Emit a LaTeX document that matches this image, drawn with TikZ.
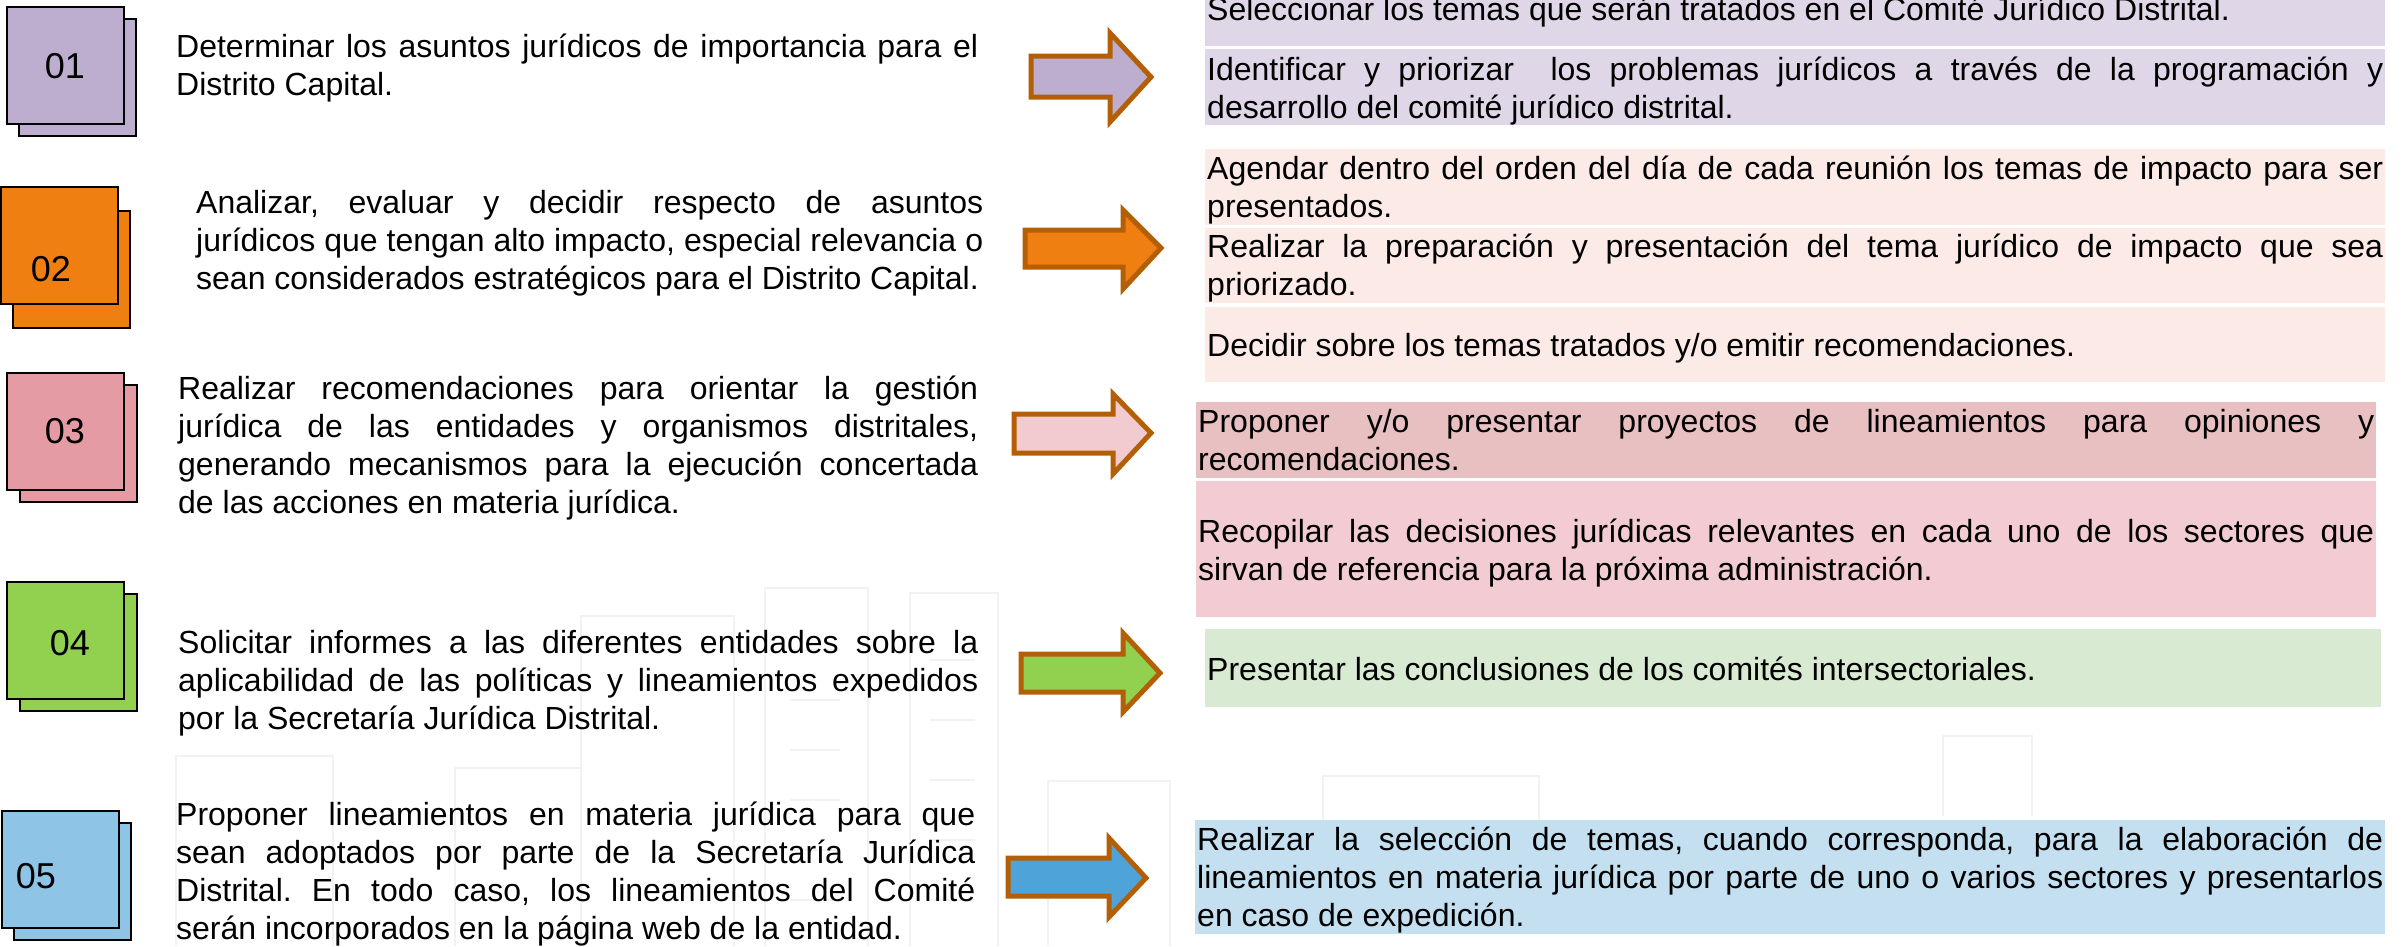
\documentclass[tikz,border=0pt]{standalone}
\usepackage{fontspec}
\setmainfont{Liberation Sans}
\frenchspacing
\definecolor{cA}{HTML}{BDAED0}
\definecolor{cB}{HTML}{EF7F10}
\definecolor{cC}{HTML}{E59BA4}
\definecolor{cD}{HTML}{92D050}
\definecolor{cE}{HTML}{8EC4E6}
\definecolor{rA}{HTML}{DFD6E7}
\definecolor{rB}{HTML}{FBEAE6}
\definecolor{rCa}{HTML}{E8C0C1}
\definecolor{rCb}{HTML}{F2CCD2}
\definecolor{rD}{HTML}{D9EAD3}
\definecolor{rE}{HTML}{C3DFF0}
\definecolor{arC}{HTML}{F2CBD0}
\definecolor{arE}{HTML}{4EA4D9}
\definecolor{arB}{HTML}{B45F06}
\newcommand\jline[1]{\hbox to\hsize{#1}}
\newcommand\lline[1]{\hbox{#1}}
\newcommand\parblock[2]{\vtop{\hsize=#1pt\baselineskip=38.3pt\relax #2}}
\tikzset{
  numbox/.style={draw=black, line width=1.8pt, minimum width=117pt, minimum height=117pt, inner sep=0pt, anchor=north west},
  numlabel/.style={inner sep=0pt, font=\fontsize{36}{40}\selectfont},
  txt/.style={inner sep=0pt, anchor=base west, font=\fontsize{32}{38.3}\selectfont},
  rbox/.style={inner sep=0pt, anchor=north west, draw=none},
  barrow/.style={draw=arB, line width=5pt, miter limit=10},
  sketch/.style={draw=black!5, line width=1.5pt}
}
\newcommand\blockarrow[9]{%
  \draw[barrow, fill=#1] (#2,#3) -- (#5,#3) -- (#5,#6) -- (#8,#9) -- (#5,#7) -- (#5,#4) -- (#2,#4) -- cycle;}
\begin{document}
\begin{tikzpicture}[x=1pt,y=-1pt]
\useasboundingbox (0,0) rectangle (2407,946);
\clip (0,0) rectangle (2407,946);
\fill[white] (0,0) rectangle (2407,946);
% faint background sketch of buildings
\draw[sketch] (176,946) -- (176,756) -- (333,756) -- (333,946);
\draw[sketch] (455,946) -- (455,768) -- (581,768) -- (581,946);
\draw[sketch] (581,946) -- (581,616) -- (734,616) -- (734,946);
\draw[sketch] (765,946) -- (765,588) -- (868,588) -- (868,946);
\draw[sketch] (910,946) -- (910,593) -- (998,593) -- (998,946);
\draw[sketch] (1048,946) -- (1048,781) -- (1170,781) -- (1170,946);
\draw[sketch] (1323,820) -- (1323,776) -- (1539,776) -- (1539,820);
\draw[sketch] (1943,816) -- (1943,736) -- (2032,736) -- (2032,816);
\foreach \yy in {650,700,750,800,850,900}{\draw[sketch] (790,\yy) -- (840,\yy);}
\foreach \yy in {660,720,780,840,900}{\draw[sketch] (930,\yy) -- (975,\yy);}
% number boxes
\node[numbox, fill=cA] (b1back) at (18,18) {};
\node[numbox, fill=cA] (b1) at (6,6) {};
\node[numlabel] (l1) at (65,66) {01};
\node[numbox, fill=cB] (b2back) at (12,210) {};
\node[numbox, fill=cB] (b2) at (0,186) {};
\node[numlabel] (l2) at (51,269) {02};
\node[numbox, fill=cC] (b3back) at (19,384) {};
\node[numbox, fill=cC] (b3) at (6,372) {};
\node[numlabel] (l3) at (65,431) {03};
\node[numbox, fill=cD] (b4back) at (19,593) {};
\node[numbox, fill=cD] (b4) at (6,581) {};
\node[numlabel] (l4) at (70,643) {04};
\node[numbox, fill=cE] (b5back) at (13,822) {};
\node[numbox, fill=cE] (b5) at (1,810) {};
\node[numlabel] (l5) at (36,876) {05};
% left texts
\node[txt] (t1) at (176,57) {\parblock{802}{%
\jline{Determinar los asuntos jurídicos de importancia para el}
\lline{Distrito Capital.}}};
\node[txt] (t2) at (196,213) {\parblock{787}{%
\jline{Analizar, evaluar y decidir respecto de asuntos}
\jline{jurídicos que tengan alto impacto, especial relevancia o}
\lline{sean considerados estratégicos para el Distrito Capital.}}};
\node[txt] (t3) at (178,399) {\parblock{800}{%
\jline{Realizar recomendaciones para orientar la gestión}
\jline{jurídica de las entidades y organismos distritales,}
\jline{generando mecanismos para la ejecución concertada}
\lline{de las acciones en materia jurídica.}}};
\node[txt] (t4) at (178,653) {\parblock{800}{%
\jline{Solicitar informes a las diferentes entidades sobre la}
\jline{aplicabilidad de las políticas y lineamientos expedidos}
\lline{por la Secretaría Jurídica Distrital.}}};
\node[txt] (t5) at (176,825) {\parblock{799}{%
\jline{Proponer lineamientos en materia jurídica para que}
\jline{sean adoptados por parte de la Secretaría Jurídica}
\jline{Distrital. En todo caso, los lineamientos del Comité}
\lline{serán incorporados en la página web de la entidad.}}};
% arrows
\blockarrow{cA}{1031}{56}{97}{1110}{33}{122}{1151}{77}
\blockarrow{cB}{1025}{230}{267}{1123}{210}{289}{1161}{248}
\blockarrow{arC}{1014}{414}{453}{1113}{394}{474}{1151}{433}
\blockarrow{cD}{1021}{654}{692}{1123}{633}{712}{1160}{673}
\blockarrow{arE}{1008}{858}{896}{1109}{838}{917}{1146}{878}
% right boxes
\node[rbox, fill=rA, minimum width=1180pt, minimum height=66pt] (r1a) at (1205,-20) {};
\node[rbox, fill=rA, minimum width=1180pt, minimum height=76pt] (r1b) at (1205,49) {};
\node[rbox, fill=rB, minimum width=1180pt, minimum height=76pt] (r2a) at (1205,149) {};
\node[rbox, fill=rB, minimum width=1180pt, minimum height=75pt] (r2b) at (1205,228) {};
\node[rbox, fill=rB, minimum width=1180pt, minimum height=75pt] (r2c) at (1205,307) {};
\node[rbox, fill=rCa, minimum width=1180pt, minimum height=76pt] (r3a) at (1196,402) {};
\node[rbox, fill=rCb, minimum width=1180pt, minimum height=136pt] (r3b) at (1196,481) {};
\node[rbox, fill=rD, minimum width=1176pt, minimum height=78pt] (r4) at (1205,629) {};
\node[rbox, fill=rE, minimum width=1190pt, minimum height=114pt] (r5) at (1195,820) {};
% right texts
\node[txt] (s1a) at (1207,20) {\parblock{1176}{%
\lline{Seleccionar los temas que serán tratados en el Comité Jurídico Distrital.}}};
\node[txt] (s1b) at (1207,80) {\parblock{1176}{%
\jline{Identificar y priorizar\ \ los problemas jurídicos a través de la programación y}
\lline{desarrollo del comité jurídico distrital.}}};
\node[txt] (s2a) at (1207,179) {\parblock{1176}{%
\jline{Agendar dentro del orden del día de cada reunión los temas de impacto para ser}
\lline{presentados.}}};
\node[txt] (s2b) at (1207,257) {\parblock{1176}{%
\jline{Realizar la preparación y presentación del tema jurídico de impacto que sea}
\lline{priorizado.}}};
\node[txt] (s2c) at (1207,356) {\parblock{1176}{%
\lline{Decidir sobre los temas tratados y/o emitir recomendaciones.}}};
\node[txt] (s3a) at (1198,432) {\parblock{1176}{%
\jline{Proponer y/o presentar proyectos de lineamientos para opiniones y}
\lline{recomendaciones.}}};
\node[txt] (s3b) at (1198,542) {\parblock{1176}{%
\jline{Recopilar las decisiones jurídicas relevantes en cada uno de los sectores que}
\lline{sirvan de referencia para la próxima administración.}}};
\node[txt] (s4) at (1207,680) {\parblock{1172}{%
\lline{Presentar las conclusiones de los comités intersectoriales.}}};
\node[txt] (s5) at (1197,850) {\parblock{1186}{%
\jline{Realizar la selección de temas, cuando corresponda, para la elaboración de}
\jline{lineamientos en materia jurídica por parte de uno o varios sectores y presentarlos}
\lline{en caso de expedición.}}};
\end{tikzpicture}
\end{document}
